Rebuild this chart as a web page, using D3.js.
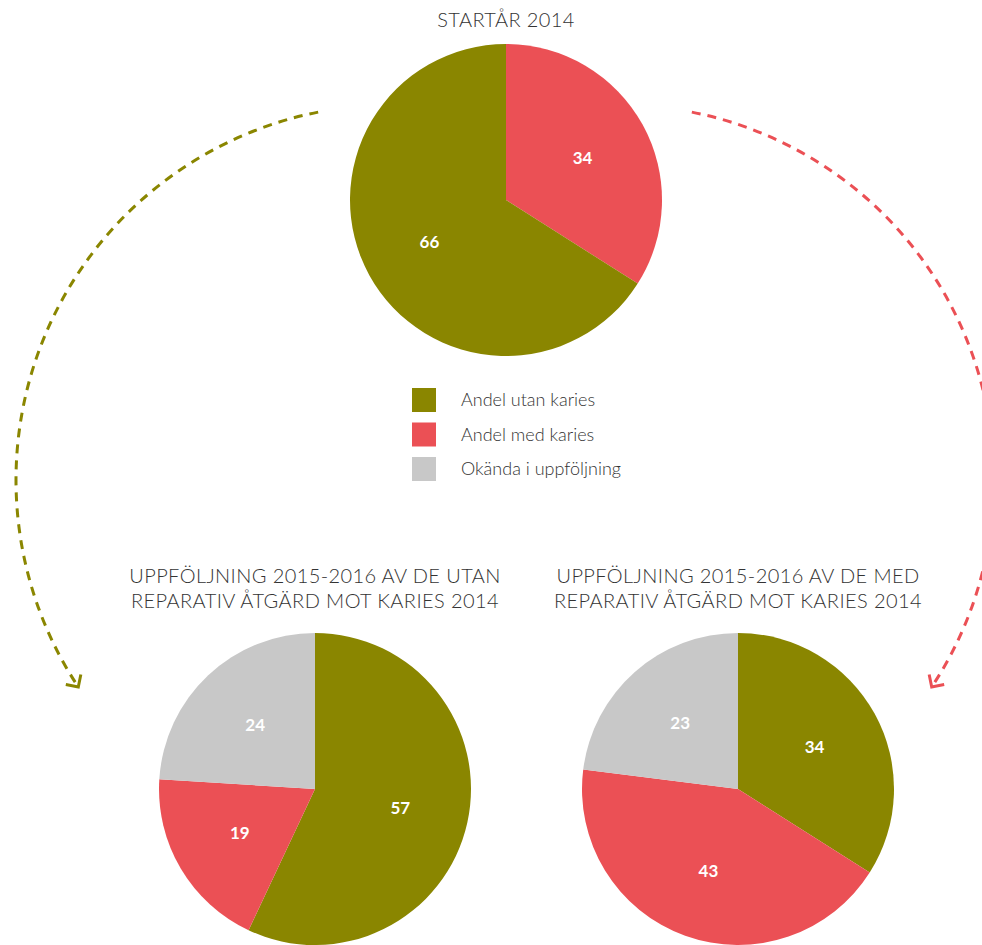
<!DOCTYPE html>
<html>
<head>
<meta charset="utf-8">
<script src="https://cdn.jsdelivr.net/npm/d3@7"></script>
<style>
  body { margin: 0; background: #fff; }
  svg { display: block; }
  .title { font-family: Lato, "Open Sans", sans-serif; font-weight: 300; font-size: 20px; fill: #333; letter-spacing: 0.4px; }
  .legend text { font-family: Lato, "Open Sans", sans-serif; font-weight: 300; font-size: 18px; fill: #333; }
  .val { font-family: Lato, "Open Sans", sans-serif; font-weight: 700; font-size: 17px; fill: #fff; }
</style>
</head>
<body>
<svg width="982" height="945"></svg>
<script>
const svg = d3.select("svg")

// categories and colours
const categories = ["Andel utan karies", "Andel med karies", "Okända i uppföljning"]
const colorRange = ["#8a8600", "#eb5055", "#c8c8c8"]

// values per pie (in drawing order, clockwise from 12 o'clock)
const startValues = [{cat: "Andel med karies", value: 34}, {cat: "Andel utan karies", value: 66}]
const utanValues = [{cat: "Andel utan karies", value: 57}, {cat: "Andel med karies", value: 19}, {cat: "Okända i uppföljning", value: 24}]
const medValues = [{cat: "Andel utan karies", value: 34}, {cat: "Andel med karies", value: 43}, {cat: "Okända i uppföljning", value: 23}]

const titleTop = ["STARTÅR 2014"]
const titleUtan = ["UPPFÖLJNING 2015-2016 AV DE UTAN", "REPARATIV ÅTGÄRD MOT KARIES 2014"]
const titleMed = ["UPPFÖLJNING 2015-2016 AV DE MED", "REPARATIV ÅTGÄRD MOT KARIES 2014"]

const color = d3.scaleOrdinal().domain(categories).range(colorRange)

const radius = 156
const pies = [
  {values: startValues, cx: 506, cy: 200, title: titleTop, ty: 27},
  {values: utanValues, cx: 315, cy: 789, title: titleUtan, ty: 583},
  {values: medValues, cx: 738, cy: 789, title: titleMed, ty: 583}
]

const pie = d3.pie().sort(null).value(d => d.value)
const arc = d3.arc().innerRadius(0).outerRadius(radius)
const labelArc = d3.arc().innerRadius(radius * 0.56).outerRadius(radius * 0.56)

// curved dashed arrows between the pies
const defs = svg.append("defs")
colorRange.slice(0, 2).forEach(function (c, i) {
  defs.append("marker")
      .attr("id", "arrow" + i)
      .attr("viewBox", "-14 -14 28 28")
      .attr("markerWidth", 28).attr("markerHeight", 28)
      .attr("markerUnits", "userSpaceOnUse")
      .attr("orient", "auto")
    .append("path")
      .attr("d", "M-9,-9L0,0L-9,9")
      .style("fill", "none")
      .style("stroke", c)
      .style("stroke-width", 3)
})

const arrowR = 375
const arrows = [
  {cx: 391, cy: 480, a0: -101.2, a1: 146.5, ccw: true, i: 0},
  {cx: 619, cy: 480, a0: -78.8, a1: 33.5, ccw: false, i: 1}
]
arrows.forEach(function (a) {
  const p = d3.path()
  const r0 = a.a0 * Math.PI / 180, r1 = a.a1 * Math.PI / 180
  p.moveTo(a.cx + arrowR * Math.cos(r0), a.cy + arrowR * Math.sin(r0))
  p.arc(a.cx, a.cy, arrowR, r0, r1, a.ccw)
  svg.append("path")
    .attr("d", p.toString())
    .style("fill", "none")
    .style("stroke", colorRange[a.i])
    .style("stroke-width", 3)
    .style("stroke-dasharray", "9,7")
    .attr("marker-end", "url(#arrow" + a.i + ")")
})

pies.forEach(function (p) {
  const g = svg.append("g").attr("transform", "translate(" + p.cx + "," + p.cy + ")")
  const slices = pie(p.values)

  g.selectAll("path")
    .data(slices)
    .enter().append("path")
      .attr("d", arc)
      .style("fill", d => color(d.data.cat))

  g.selectAll("text")
    .data(slices)
    .enter().append("text")
      .attr("class", "val")
      .attr("transform", d => "translate(" + labelArc.centroid(d) + ")")
      .attr("text-anchor", "middle")
      .attr("dy", "0.35em")
      .text(d => d.data.value)

  svg.append("text")
    .attr("class", "title")
    .attr("text-anchor", "middle")
    .selectAll("tspan")
    .data(p.title)
    .enter().append("tspan")
      .attr("x", p.cx)
      .attr("y", (d, i) => p.ty + i * 25)
      .text(d => d)
})

// legend
const legend = svg.append("g").attr("class", "legend").attr("transform", "translate(412,388)")
const item = legend.selectAll("g")
  .data(categories)
  .enter().append("g")
    .attr("transform", (d, i) => "translate(0," + i * 34.5 + ")")
item.append("rect")
  .attr("width", 24).attr("height", 24)
  .style("fill", d => color(d))
item.append("text")
  .attr("x", 49).attr("y", 12).attr("dy", "0.35em")
  .text(d => d)
</script>
</body>
</html>
